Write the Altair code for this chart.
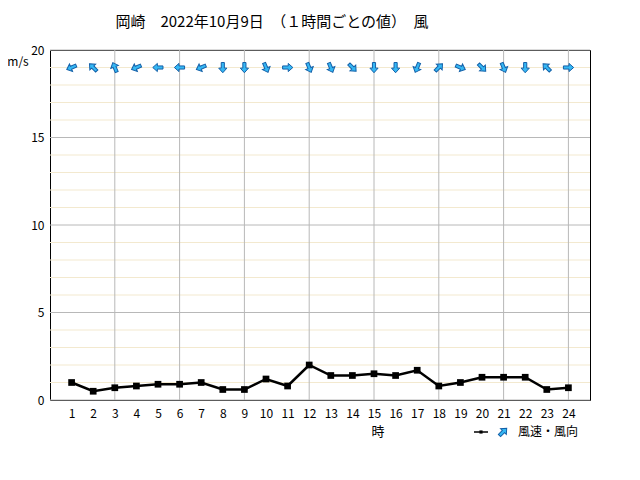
import altair as alt
import pandas as pd

hours = list(range(1, 25))
speed = [1.0, 0.5, 0.7, 0.8, 0.9, 0.9, 1.0, 0.6, 0.6, 1.2, 0.8, 2.0,
         1.4, 1.4, 1.5, 1.4, 1.7, 0.8, 1.0, 1.3, 1.3, 1.3, 0.6, 0.7]
direction = ["東北東", "南東", "南南東", "東北東", "東", "東", "東北東", "北", "北", "北北西", "西", "北北西",
             "北北西", "北西", "北", "北", "北北東", "南西", "西北西", "北西", "北北西", "北", "南東", "西"]
dir16 = ["北", "北北東", "北東", "東北東", "東", "東南東", "南東", "南南東",
         "南", "南南西", "南西", "西南西", "西", "西北西", "北西", "北北西"]
y_ticks = [0, 5, 10, 15, 20]
y_minor = [v for v in range(1, 20) if v % 5 != 0]
x_grid = [3, 6, 9, 12, 15, 18, 21, 24]
arrow_level = 19

deg = {d: i * 22.5 for i, d in enumerate(dir16)}
df = pd.DataFrame({"hour": hours, "speed": speed, "dir": direction})
df["angle"] = [(deg[d] + 180) % 360 for d in direction]
df["arrow_y"] = arrow_level

FONT = "Noto Sans CJK JP"
ARROW = "M0,-1 L0.78,-0.12 L0.3,-0.12 L0.3,0.95 L-0.3,0.95 L-0.3,-0.12 L-0.78,-0.12 Z"
FILL = "#35b8f4"
STROKE = "#1460a8"

xscale = alt.Scale(domain=[0, 25], nice=False)
yscale = alt.Scale(domain=[0, 20], nice=False)


def xaxis():
    return alt.Axis(values=hours, title=None, ticks=False, domain=False, labelAngle=0, grid=False,
                    labelFont=FONT, labelFontSize=12, labelColor="black", labelPadding=8,
                    labelOverlap=False)


def yaxis():
    return alt.Axis(values=y_ticks, title=None, ticks=False, domain=False, grid=False,
                    labelFont=FONT, labelFontSize=12, labelColor="black", labelPadding=6,
                    labelOverlap=False)


def X(f):
    return alt.X(f, type="quantitative", scale=xscale, axis=xaxis())


def Y(f):
    return alt.Y(f, type="quantitative", scale=yscale, axis=yaxis())


minor = alt.Chart(pd.DataFrame({"v": y_minor})).mark_rule(color="#f3e9cf", strokeWidth=1).encode(y=Y("v"))
major = alt.Chart(pd.DataFrame({"v": y_ticks})).mark_rule(color="#b8b8b8", strokeWidth=1).encode(y=Y("v"))
vgrid = alt.Chart(pd.DataFrame({"v": x_grid})).mark_rule(color="#b8b8b8", strokeWidth=1).encode(x=X("v"))

base = alt.Chart(df)
line = base.mark_line(color="black", strokeWidth=2.5).encode(x=X("hour"), y=Y("speed"))
pts = base.mark_square(color="black", size=45, opacity=1).encode(x=X("hour"), y=Y("speed"))
arrows = base.mark_point(shape=ARROW, filled=True, fill=FILL, stroke=STROKE,
                         strokeWidth=1, size=110, opacity=1).encode(
    x=X("hour"), y=Y("arrow_y"), angle=alt.Angle("angle:Q", scale=None))


def label(t, x, y, s):
    return alt.Chart(df).mark_text(text=t, font=FONT, fontSize=s, color="black",
                                   align="center", baseline="middle").encode(
        x=alt.value(x), y=alt.value(y)).transform_filter("datum.hour === 1")


title = label("岡崎　2022年10月9日　（１時間ごとの値）　風", 222, -28, 15)
unit = label("m/s", -32, 12, 12)
hour_t = label("時", 328, 382, 13)
leg_t = label("風速・風向", 498, 382, 12)

leg_line = alt.Chart(df).mark_rule(color="black", strokeWidth=1.5).encode(
    x=alt.value(424), x2=alt.value(438), y=alt.value(382)).transform_filter("datum.hour === 1")
leg_pt = alt.Chart(df).mark_square(color="black", size=10, opacity=1).encode(
    x=alt.value(431), y=alt.value(382)).transform_filter("datum.hour === 1")
leg_arrow = alt.Chart(df).mark_point(
    shape=ARROW, filled=True, fill=FILL, stroke=STROKE, strokeWidth=1, size=110, opacity=1,
    angle=45).encode(
    x=alt.value(453), y=alt.value(382)).transform_filter("datum.hour === 1")

chart = alt.layer(minor, major, vgrid, line, pts, arrows, title, unit, hour_t, leg_t,
                  leg_line, leg_pt, leg_arrow).properties(
    width=540, height=350,
    autosize=alt.AutoSizeParams(type="none"),
    padding={"left": 42, "top": 42, "right": 40, "bottom": 60},
    background="white",
).configure_view(stroke="black", strokeWidth=1).configure_axis(grid=False)

chart.save("out.html", embed_options={"renderer": "svg", "actions": False})
